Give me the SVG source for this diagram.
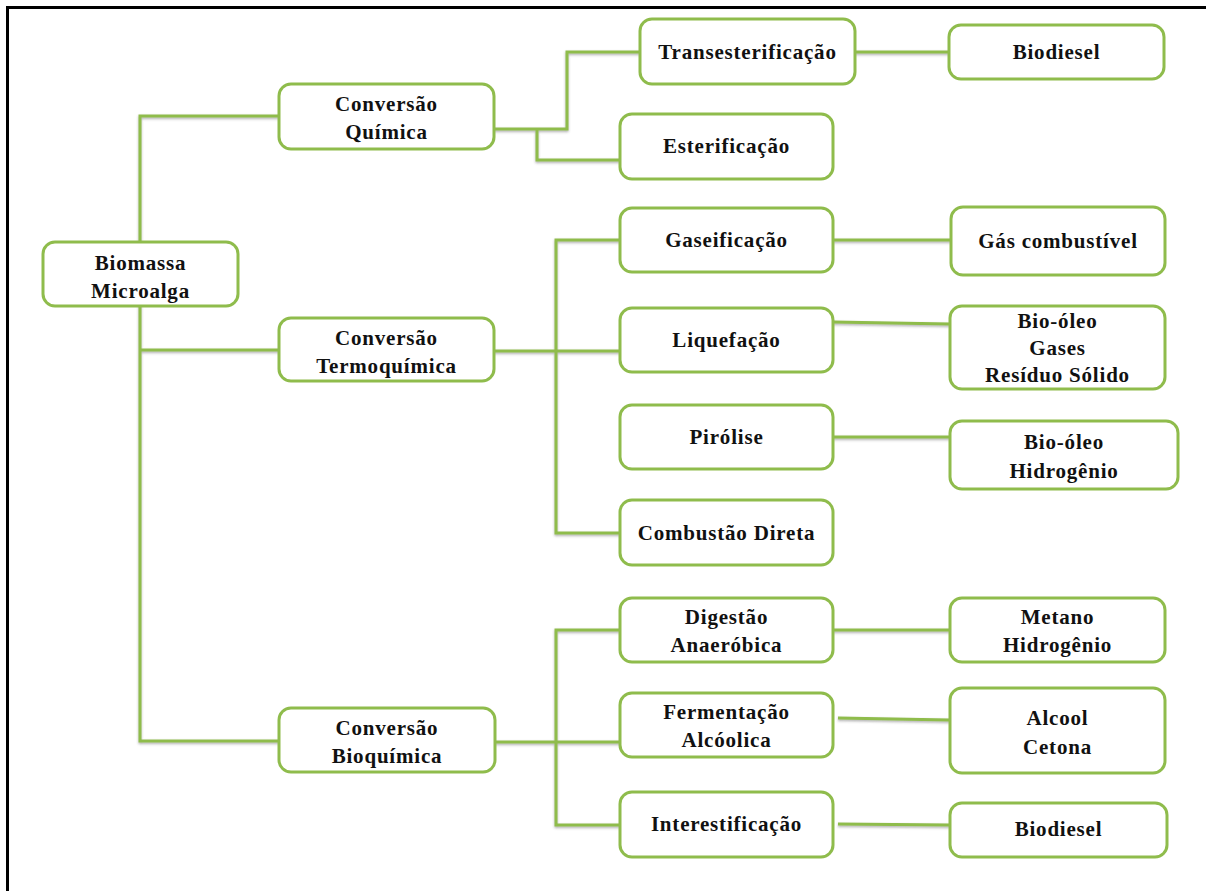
<svg xmlns="http://www.w3.org/2000/svg" width="1206" height="891" viewBox="0 0 1206 891">
  <defs>
    <filter id="shadow" x="-5%" y="-50%" width="110%" height="200%">
      <feDropShadow dx="0" dy="1.5" stdDeviation="1" flood-color="#555" flood-opacity="0.45"/>
    </filter>
  </defs>
  <style>
    .box { fill: #ffffff; stroke: #8fbc4c; stroke-width: 3; }
    .wire { fill: none; stroke: #8fbc4c; stroke-width: 3; }
    .lbl { font-family: "Liberation Serif", "Times New Roman", serif; font-weight: bold; font-size: 21px; letter-spacing: 0.8px; fill: #111; text-anchor: middle; }
    .frame { stroke: #000; stroke-width: 3; fill: none; }
  </style>
  <rect width="1206" height="891" fill="#ffffff"/>
  <path class="frame" d="M7.5 891 V7.5 H1206"/>

  <g id="connectors" filter="url(#shadow)">
    <!-- root trunk -->
    <path class="wire" d="M279 116 H140 V741 H279"/>
    <path class="wire" d="M140 350 H279"/>
    <!-- chemical branch -->
    <path class="wire" d="M494 129 H567 V52 H640"/>
    <path class="wire" d="M537 129 V160 H620"/>
    <!-- thermochemical branch -->
    <path class="wire" d="M494 351 H620"/>
    <path class="wire" d="M620 240 H556 V533 H620"/>
    <!-- biochemical branch -->
    <path class="wire" d="M495 742 H620"/>
    <path class="wire" d="M620 630 H556 V825 H620"/>
    <!-- products -->
    <path class="wire" d="M855 52 H949"/>
    <path class="wire" d="M833 240 H951"/>
    <path class="wire" d="M833 322 L950 324"/>
    <path class="wire" d="M833 437 H950"/>
    <path class="wire" d="M833 630 H950"/>
    <path class="wire" d="M838 718 L950 720"/>
    <path class="wire" d="M838 824 L950 825"/>
  </g>

  <g id="biomassa">
    <rect class="box" x="43" y="242" width="195" height="64" rx="12"/>
    <text class="lbl" x="140.5" y="270">Biomassa</text>
    <text class="lbl" x="140.5" y="298">Microalga</text>
  </g>

  <g id="conv-quimica">
    <rect class="box" x="279" y="84" width="215" height="65" rx="12"/>
    <text class="lbl" x="386.5" y="111">Conversão</text>
    <text class="lbl" x="386.5" y="139">Química</text>
  </g>
  <g id="conv-termoquimica">
    <rect class="box" x="279" y="318" width="215" height="63" rx="12"/>
    <text class="lbl" x="386.5" y="345">Conversão</text>
    <text class="lbl" x="386.5" y="373">Termoquímica</text>
  </g>
  <g id="conv-bioquimica">
    <rect class="box" x="279" y="708" width="216" height="64" rx="12"/>
    <text class="lbl" x="387" y="735">Conversão</text>
    <text class="lbl" x="387" y="763">Bioquímica</text>
  </g>

  <g id="transesterificacao">
    <rect class="box" x="640" y="19" width="215" height="65" rx="12"/>
    <text class="lbl" x="747.5" y="59">Transesterificação</text>
  </g>
  <g id="esterificacao">
    <rect class="box" x="620" y="114" width="213" height="65" rx="12"/>
    <text class="lbl" x="726.5" y="153">Esterificação</text>
  </g>
  <g id="gaseificacao">
    <rect class="box" x="620" y="208" width="213" height="64" rx="12"/>
    <text class="lbl" x="726.5" y="247">Gaseificação</text>
  </g>
  <g id="liquefacao">
    <rect class="box" x="620" y="308" width="213" height="64" rx="12"/>
    <text class="lbl" x="726.5" y="347">Liquefação</text>
  </g>
  <g id="pirolise">
    <rect class="box" x="620" y="405" width="213" height="64" rx="12"/>
    <text class="lbl" x="726.5" y="444">Pirólise</text>
  </g>
  <g id="combustao">
    <rect class="box" x="620" y="500" width="213" height="65" rx="12"/>
    <text class="lbl" x="726.5" y="540">Combustão Direta</text>
  </g>
  <g id="digestao">
    <rect class="box" x="620" y="598" width="213" height="64" rx="12"/>
    <text class="lbl" x="726.5" y="624">Digestão</text>
    <text class="lbl" x="726.5" y="652">Anaeróbica</text>
  </g>
  <g id="fermentacao">
    <rect class="box" x="620" y="693" width="213" height="64" rx="12"/>
    <text class="lbl" x="726.5" y="719">Fermentação</text>
    <text class="lbl" x="726.5" y="747">Alcóolica</text>
  </g>
  <g id="interestificacao">
    <rect class="box" x="620" y="792" width="213" height="65" rx="12"/>
    <text class="lbl" x="726.5" y="831">Interestificação</text>
  </g>

  <g id="biodiesel-1">
    <rect class="box" x="949" y="25" width="215" height="54" rx="12"/>
    <text class="lbl" x="1056.5" y="59">Biodiesel</text>
  </g>
  <g id="gas-combustivel">
    <rect class="box" x="951" y="207" width="214" height="68" rx="12"/>
    <text class="lbl" x="1058" y="248">Gás combustível</text>
  </g>
  <g id="liquefacao-produtos">
    <rect class="box" x="950" y="306" width="215" height="83" rx="12"/>
    <text class="lbl" x="1057.5" y="328">Bio-óleo</text>
    <text class="lbl" x="1057.5" y="355">Gases</text>
    <text class="lbl" x="1057.5" y="382">Resíduo Sólido</text>
  </g>
  <g id="pirolise-produtos">
    <rect class="box" x="950" y="421" width="228" height="68" rx="12"/>
    <text class="lbl" x="1064" y="449">Bio-óleo</text>
    <text class="lbl" x="1064" y="478">Hidrogênio</text>
  </g>
  <g id="metano">
    <rect class="box" x="950" y="598" width="215" height="64" rx="12"/>
    <text class="lbl" x="1057.5" y="624">Metano</text>
    <text class="lbl" x="1057.5" y="652">Hidrogênio</text>
  </g>
  <g id="alcool">
    <rect class="box" x="950" y="688" width="215" height="85" rx="12"/>
    <text class="lbl" x="1057.5" y="725">Alcool</text>
    <text class="lbl" x="1057.5" y="754">Cetona</text>
  </g>
  <g id="biodiesel-2">
    <rect class="box" x="950" y="803" width="217" height="54" rx="12"/>
    <text class="lbl" x="1058.5" y="836">Biodiesel</text>
  </g>
</svg>
